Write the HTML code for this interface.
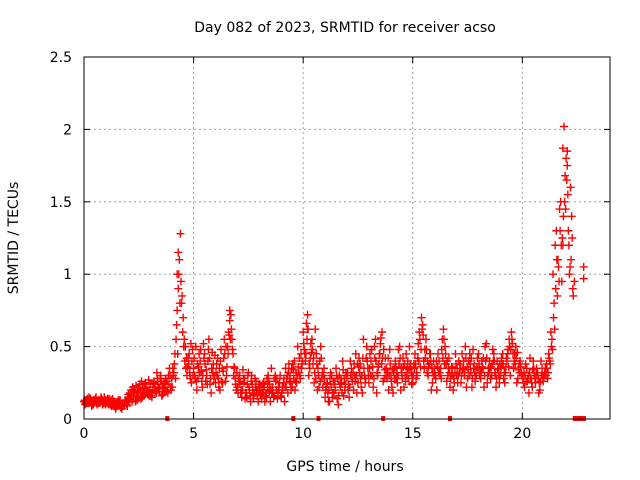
<!DOCTYPE html>
<html><head><meta charset="utf-8"><style>
body{margin:0;background:#fff}
svg{display:block;font-family:"DejaVu Sans","Liberation Sans",sans-serif}
</style></head><body>
<svg id="chart" width="640" height="480">
<rect x="0" y="0" width="640" height="480" fill="#fff"/>
<text x="345" y="32" font-size="14" text-anchor="middle">Day 082 of 2023, SRMTID for receiver acso</text>
<text x="345" y="471" font-size="14" text-anchor="middle">GPS time / hours</text>
<text transform="translate(18,238) rotate(-90)" font-size="14" text-anchor="middle">SRMTID / TECUs</text>
<g id="grid"></g>
<g id="marks"></g>
<g id="axes"></g>
</svg>
<script>
const xTicks=[0,5,10,15,20];
const yTicks=[0,0.5,1,1.5,2,2.5];
const yTickLabels=["0","0.5","1","1.5","2","2.5"];
const seriesA=[.12,.13,.11,.14,.12,.13,.10,.12,.14,.11,
.13,.12,.10,.14,.11,.09,.12,.08,.10,.12,
.15,.18,.12,.20,.16,.22,.14,.18,.25,.17,
.20,.15,.26,.18,.22,.30,.17,.24,.20,.35,
.28,.32,.55,.90,1.28,.60,.40,.30,.45,.25,
.35,.50,.28,.40,.22,.45,.30,.55,.18,.38,
.25,.42,.20,.35,.55,.30,.60,.72,.45,.28,
.22,.30,.15,.25,.18,.32,.12,.20,.28,.16,
.20,.14,.25,.18,.30,.12,.22,.16,.28,.20,
.15,.25,.35,.18,.30,.22,.40,.25,.32,.45,
.60,.40,.72,.35,.55,.25,.45,.30,.50,.22,
.15,.25,.12,.30,.18,.35,.10,.22,.40,.20,
.28,.15,.35,.20,.45,.25,.38,.18,.30,.50,
.25,.40,.22,.55,.30,.45,.60,.28,.35,.20,
.30,.18,.40,.25,.50,.32,.22,.45,.28,.38,
.25,.45,.30,.60,.70,.40,.55,.30,.45,.25,
.35,.20,.40,.28,.62,.45,.30,.22,.35,.25,
.30,.40,.25,.35,.50,.28,.45,.22,.38,.30,
.45,.28,.35,.50,.25,.40,.30,.45,.22,.35,
.30,.45,.25,.40,.55,.60,.35,.50,.28,.40,
.30,.22,.35,.18,.28,.40,.25,.32,.20,.35,
.30,.38,.45,.60,1.00,1.20,.85,1.45,.95,2.02,
1.80,1.30,1.60,.90];
const seriesB=[.10,.14,.12,.09,.13,.15,.11,.13,.10,.12,
.11,.14,.09,.12,.07,.10,.13,.09,.11,.10,
.13,.20,.16,.12,.19,.24,.15,.21,.18,.27,
.16,.22,.19,.28,.21,.16,.25,.19,.30,.22,
.35,.45,.75,1.10,.80,.50,.35,.42,.28,.48,
.30,.20,.45,.33,.52,.26,.40,.24,.46,.30,
.38,.22,.48,.33,.26,.50,.68,.55,.36,.20,
.28,.18,.34,.14,.24,.20,.30,.17,.26,.12,
.17,.24,.12,.28,.19,.35,.15,.26,.18,.30,
.22,.12,.28,.38,.20,.34,.26,.50,.30,.38,
.48,.66,.30,.52,.38,.62,.20,.40,.28,.35,
.22,.12,.32,.18,.26,.14,.30,.25,.16,.32,
.20,.40,.26,.30,.18,.42,.22,.55,.28,.35,
.45,.30,.50,.18,.38,.56,.26,.42,.32,.48,
.22,.35,.28,.48,.20,.42,.30,.35,.50,.24,
.38,.28,.52,.36,.65,.48,.32,.38,.20,.40,
.28,.45,.30,.55,.38,.26,.42,.30,.20,.45,
.25,.35,.45,.30,.22,.40,.32,.48,.26,.42,
.30,.40,.22,.52,.35,.28,.48,.32,.40,.25,
.42,.28,.36,.48,.30,.52,.45,.25,.38,.32,
.25,.38,.28,.42,.22,.30,.35,.18,.40,.26,
.35,.28,.40,.55,.80,1.30,1.05,1.50,1.20,1.68,
1.85,1.00,1.40];
const seriesC=[.13,.11,.15,.12,.10,.14,.12,.11,.13,.15,
.12,.10,.13,.11,.08,.12,.10,.07,.09,.13,
.17,.14,.22,.18,.13,.20,.26,.16,.22,.19,
.24,.18,.22,.32,.19,.26,.21,.28,.18,.30,
.22,.38,.65,1.0,.95,.70,.50,.36,.32,.40,
.42,.26,.36,.48,.30,.38,.24,.42,.35,.28,
.32,.28,.40,.25,.45,.36,.58,.62,.30,.24,
.18,.26,.20,.28,.15,.22,.26,.14,.22,.20,
.24,.18,.22,.15,.26,.20,.18,.30,.14,.25,
.18,.28,.22,.32,.25,.38,.20,.30,.42,.35,
.52,.45,.62,.42,.48,.32,.38,.22,.42,.30,
.20,.18,.28,.15,.24,.30,.16,.28,.34,.24,
.32,.22,.28,.38,.30,.36,.28,.42,.25,.40,
.35,.48,.28,.40,.36,.52,.42,.34,.28,.30,
.26,.32,.36,.30,.42,.28,.38,.30,.34,.32,
.30,.38,.42,.55,.62,.35,.48,.36,.40,.32,
.30,.36,.32,.48,.55,.38,.35,.28,.30,.32,
.35,.32,.30,.40,.42,.34,.38,.28,.32,.36,
.38,.32,.42,.40,.30,.35,.38,.40,.28,.30,
.35,.38,.32,.45,.50,.55,.40,.42,.34,.36,
.28,.30,.26,.32,.25,.35,.30,.28,.26,.30,
.32,.35,.42,.50,.70,.90,1.10,1.30,1.25,1.50,
1.65,1.20,1.10,.85];
const seriesD=[.11,.12,.14,.10,.12,.11,.13,.15,.12,.10,
.14,.11,.12,.09,.10,.13,.08,.11,.12,.09,
.14,.16,.19,.23,.15,.18,.21,.24,.20,.16,
.18,.25,.20,.24,.28,.22,.19,.26,.24,.20,
.30,.28,.45,.80,.85,.55,.42,.38,.52,.30,
.28,.38,.32,.26,.42,.34,.48,.28,.32,.44,
.30,.35,.26,.42,.50,.45,.55,.48,.35,.32,
.24,.20,.28,.18,.30,.16,.24,.18,.20,.24,
.22,.20,.16,.22,.24,.18,.28,.20,.22,.16,
.20,.22,.30,.26,.35,.28,.32,.36,.28,.40,
.45,.55,.38,.46,.42,.28,.35,.26,.32,.28,
.24,.20,.22,.26,.20,.28,.24,.18,.28,.30,
.24,.30,.32,.26,.38,.32,.30,.35,.42,.30,
.30,.36,.42,.32,.45,.38,.48,.30,.42,.38,
.34,.28,.32,.38,.35,.36,.26,.40,.36,.30,
.35,.32,.40,.48,.58,.42,.40,.45,.35,.30,
.40,.32,.35,.42,.50,.40,.32,.36,.28,.38,
.30,.38,.34,.32,.36,.30,.42,.35,.30,.34,
.34,.36,.30,.42,.32,.36,.40,.30,.34,.38,
.38,.32,.42,.36,.48,.45,.38,.46,.32,.30,
.32,.26,.30,.28,.34,.28,.32,.25,.30,.28,
.30,.32,.38,.48,.62,1.10,.95,1.20,1.40,1.45,
1.55,1.05,1.25,.95];
const extraTimes=[22.8,22.8,4.3,4.25,21.85,22.05,6.65,10.2];
const extraValues=[1.05,0.97,1.15,1.0,1.87,1.75,0.75,0.62];
const gapTimes=[3.8,9.55,10.7,13.65,16.7];
const gapEndStart=22.3, gapEndStop=22.9;

const X0=84,X1=610,Y0=419,Y1=57,XMAX=24,YMAX=2.5;
const xs=t=>X0+(X1-X0)*t/XMAX;
const ys=v=>Y0-(Y0-Y1)*v/YMAX;
const NS="http://www.w3.org/2000/svg";
function mk(tag,attrs,parent){const e=document.createElementNS(NS,tag);for(const k in attrs)e.setAttribute(k,attrs[k]);parent.appendChild(e);return e;}
const grid=document.getElementById('grid'),marks=document.getElementById('marks'),axes=document.getElementById('axes');
xTicks.forEach(t=>{if(t>0){const l=mk('line',{x1:xs(t),x2:xs(t),y1:Y1,y2:Y0,stroke:'#a0a0a0','stroke-dasharray':'2,3'},grid);

}});
yTicks.forEach(v=>{if(v>0&&v<YMAX){const l=mk('line',{x1:X0,x2:X1,y1:ys(v),y2:ys(v),stroke:'#a0a0a0','stroke-dasharray':'2,3'},grid);

}});
function plus(t,v){const x=xs(t),y=ys(v);const p=mk('path',{d:`M${x-4},${y}H${x+4}M${x},${y-4}V${y+4}`,stroke:'#ff0000','stroke-width':1.4,fill:'none'},marks);

}
seriesA.forEach((v,i)=>plus(i*0.1,v));
seriesB.forEach((v,i)=>plus(0.05+i*0.1,v));
seriesC.forEach((v,i)=>plus(0.025+i*0.1,v));
seriesD.forEach((v,i)=>plus(0.075+i*0.1,v));
extraTimes.forEach((t,i)=>plus(t,extraValues[i]));
gapTimes.forEach(t=>{const r=mk('rect',{x:xs(t)-2,y:Y0-3,width:4,height:5,fill:'#ff0000'},marks);

});
const gr=mk('rect',{x:xs(gapEndStart),y:Y0-3,width:xs(gapEndStop)-xs(gapEndStart),height:5,fill:'#ff0000'},marks);


const frame=mk('rect',{x:X0,y:Y1,width:X1-X0,height:Y0-Y1,fill:'none',stroke:'#000','stroke-width':1},axes);


xTicks.forEach(t=>{mk('line',{x1:xs(t),x2:xs(t),y1:Y0,y2:Y0-6,stroke:'#000'},axes);mk('line',{x1:xs(t),x2:xs(t),y1:Y1,y2:Y1+6,stroke:'#000'},axes);
const tx=mk('text',{x:xs(t),y:Y0+19,'font-size':14,'text-anchor':'middle'},axes);tx.textContent=t;

});
yTicks.forEach((v,i)=>{mk('line',{x1:X0,x2:X0+6,y1:ys(v),y2:ys(v),stroke:'#000'},axes);mk('line',{x1:X1,x2:X1-6,y1:ys(v),y2:ys(v),stroke:'#000'},axes);
const tx=mk('text',{x:X0-12,y:ys(v)+5,'font-size':14,'text-anchor':'end'},axes);tx.textContent=yTickLabels[i];

});
</script>
</body></html>
